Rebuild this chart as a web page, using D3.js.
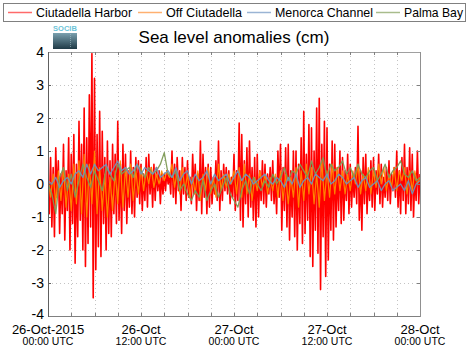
<!DOCTYPE html>
<html><head><meta charset="utf-8">
<script src="https://cdn.jsdelivr.net/npm/d3@7"></script>
<style>body{margin:0;background:#fff}svg{display:block;font-family:"Liberation Sans",Arial,sans-serif}</style>
</head><body><svg id="c" width="468" height="353"></svg>
<script>
const seriesNames = ["Ciutadella Harbor","Off Ciutadella","Menorca Channel","Palma Bay"];
const seriesColors = ["#ff0000","#ff8800","#6f93b8","#7d9a55"];
const legendColors = ["#ff6a6a","#ffb070","#9ab4d4","#a8bc8c"];
const startTime = "2015-10-26T00:00:00Z";
const endTime = "2015-10-28T00:00:00Z";
const yTicks = [-4,-3,-2,-1,0,1,2,3,4];
const xLabelDates = ["26-Oct-2015","26-Oct","27-Oct","27-Oct","28-Oct"];
const xLabelTimes = ["00:00 UTC","12:00 UTC","00:00 UTC","12:00 UTC","00:00 UTC"];

// 10-minute samples (cm)
const harbor = [
 0.1,-0.9,0.8,-1.3,0.5,-1.6,  1.1,-0.4,0.7,-1.5,0.3,-0.9,  1.2,-1.7,0.4,-0.8,1.4,-2.0,
 0.9,-1.2,1.5,-2.4,0.6,-1.6,  1.9,-1.1,1.2,-2.0,2.3,-2.5,  1.4,-1.8,2.7,-1.3,3.95,-3.45,
 3.2,-2.6,1.5,-1.9,2.2,-2.2,  1.6,-1.2,0.8,-2.0,1.3,-1.5,  0.7,-1.6,1.2,-0.9,0.9,-1.2,
 1.9,-1.1,0.6,-1.5,1.2,-0.8,  0.9,-1.2,0.4,-0.7,1.0,-0.9,  0.5,-1.0,0.8,-0.4,0.7,-0.6,
 0.6,-0.8,0.3,-0.5,0.8,-0.7,  0.9,-0.3,0.5,-0.7,0.6,-0.5,  0.5,-0.2,0.4,-0.6,0.3,-0.3,
 0.3,-0.2,0.4,0.0,0.3,-0.3,   1.0,-0.4,0.6,-0.6,0.8,-0.2,  0.4,-0.8,0.8,-0.3,0.5,-0.5,
 0.7,-0.4,0.2,-0.6,0.9,-0.3,  0.6,-0.8,0.3,-0.5,1.3,-0.9,  0.9,-0.4,0.5,-0.9,0.6,-0.7,
 0.5,-0.6,0.2,-0.3,0.7,-0.5,  1.3,-0.8,0.4,-0.5,0.6,-0.2,  0.5,-0.3,0.4,-0.6,0.2,-0.4,
 0.9,-0.8,0.4,-0.5,1.85,-1.1, 1.5,-1.3,0.7,-0.6,1.1,-1.0,  1.3,-0.7,0.5,-1.1,0.8,-1.3,
 0.9,-1.0,0.4,-0.5,0.7,-0.6,  0.6,-0.7,0.3,-0.3,0.5,-0.5,  0.7,-0.6,0.2,-0.9,1.0,-0.4,
 1.2,-1.4,0.5,-0.8,1.1,-1.3,  1.2,-1.7,0.4,-1.0,1.0,-1.6,  1.0,-2.0,0.6,-1.2,1.4,-1.8,
 2.2,-1.5,0.9,-1.1,1.8,-2.2,  1.7,-2.5,1.0,-1.4,2.3,-2.1,  2.6,-3.2,1.2,-1.6,1.9,-2.8,
 1.7,-2.3,0.6,-1.4,1.3,-1.7,  1.2,-1.3,0.5,-0.8,1.0,-1.2,  0.8,-1.1,0.4,-0.5,0.9,-0.9,
 0.6,-0.7,0.3,-0.4,0.5,-0.6,  1.75,-1.1,0.4,-1.4,0.8,-0.6, 0.9,-0.9,0.3,-0.5,0.7,-0.7,
 0.8,-0.8,0.4,-0.3,0.9,-0.6,  0.6,-0.7,0.2,-0.4,0.5,-0.5,  0.7,-0.6,0.3,-0.2,0.5,-0.4,
 1.0,-0.7,0.4,-0.9,0.8,-0.5,  1.2,-0.9,0.5,-0.6,1.1,-0.8,  0.9,-1.0,0.3,-0.5,1.0,-0.6,
 0.3];

// 20-minute samples
const offCiutadella = [
 0.2,-0.4,0.3, -0.6,0.4,-0.5, 0.5,-0.7,0.3, -0.8,0.6,-0.6, 0.7,-0.9,0.9, -1.0,0.6,-0.6,
 1.0,-0.9,0.5, -0.8,0.3,-1.0, 0.2,-0.8,0.4, -0.6,0.7,-0.7, 0.5,-0.4,0.6, -0.5,0.4,-0.3,
 0.5,-0.2,0.4, 0.0,0.5,-0.1, 0.3,0.0,0.4, 0.1,0.4,0.2, 0.6,-0.1,0.4, -0.3,0.5,-0.2,
 0.3,-0.4,0.2, -0.3,0.4,-0.5, 0.3,-0.2,0.5, -0.3,0.2,-0.4, 0.6,-0.2,0.3, -0.1,0.3,0.0,
 0.4,-0.3,0.5, -0.4,0.6,-0.3, 0.3,-0.5,0.2, -0.2,0.4,-0.1, 0.3,-0.3,0.2, -0.2,0.3,-0.4,
 0.4,-0.5,0.3, -0.6,0.2,-0.4, 0.5,-0.7,0.4, -0.5,0.6,-0.3, 0.5,-0.6,0.3, -0.7,0.7,-0.5,
 0.4,-0.4,0.6, -0.3,0.5,-0.2, 0.4,-0.3,0.3, -0.2,0.4,0.0, 0.6,-0.3,0.3, -0.2,0.5,-0.3,
 0.4,-0.1,0.6, 0.0,0.5,-0.2, 0.3,-0.1,0.5, -0.2,0.4,0.1, 0.5,-0.3,0.4, -0.2,0.4,0.0,
 0.2];

// 30-minute samples
const menorcaChannel = [
 0.1,0.0, 0.2,-0.1, 0.1,0.2, 0.0,0.3, 0.4,0.2, 0.6,0.3, 0.6,0.4, 0.5,0.6,
 0.3,0.5, 0.7,0.4, 0.5,0.3, 0.4,0.6, 0.3,0.5, 0.4,0.3, 0.5,0.2, 0.3,0.4,
 0.2,0.5, 0.1,0.3, 0.4,0.0, 0.3,0.1, 0.2,0.4, 0.0,0.3, 0.1,0.2, 0.3,0.0,
 0.2,0.4, 0.1,0.3, 0.2,0.0, 0.1,0.2, 0.3,0.1, 0.0,0.2, 0.1,-0.1, 0.2,0.0,
 0.3,-0.1, 0.1,0.2, 0.0,0.3, 0.2,0.1, 0.3,0.0, 0.1,0.3, 0.2,0.0, 0.1,0.2,
 -0.1,0.1, 0.2,-0.1, 0.0,0.1, -0.2,0.0, 0.1,-0.2, -0.1,0.0, -0.2,0.1, -0.3,0.0,
 0.1];

const palmaBay = [
 0.0,-0.3, -0.9,0.2, 0.5,-0.2, 0.3,-0.4, 0.1,0.6, 0.2,-0.1, 0.4,0.1, -0.2,0.5,
 0.3,0.1, 0.6,0.3, 0.4,0.5, 0.2,0.6, 0.4,0.2, 0.5,0.3, 0.4,0.6, 0.95,0.3,
 0.2,0.4, -0.2,0.0, -0.3,-0.5, -0.2,-0.4, 0.1,-0.5, -0.2,0.0, -0.4,-0.1, 0.2,-0.3,
 -0.5,-0.7, -0.2,0.1, -0.3,0.2, 0.0,-0.2, 0.1,-0.1, 0.3,0.0, 0.2,0.5, 0.1,0.4,
 0.3,0.6, 0.4,0.2, 0.7,0.3, 0.5,0.8, 0.2,0.6, 0.4,0.5, 0.7,0.3, 0.5,0.2,
 0.6,0.3, 0.2,0.4, 0.5,0.1, 0.3,0.6, 0.2,0.4, 0.5,0.7, 0.3,0.2, 0.4,0.1,
 0.2];

const svg = d3.select("#c");
const t0 = new Date(startTime), t1 = new Date(endTime);
const L = 48, R = 420, T = 52, B = 316;
const x = d3.scaleUtc().domain([t0, t1]).range([L, R]);
const y = d3.scaleLinear().domain([-4, 4]).range([B, T]);

function toPoints(arr) {
  const step = (t1 - t0) / (arr.length - 1);
  return arr.map((v, i) => ({t: new Date(+t0 + i * step), v}));
}

// grid
const gridTimes = d3.utcHour.every(3).range(t0, d3.utcHour.offset(t1, 1));
const inner = gridTimes.filter(d => +d > +t0 && +d < +t1);
const innerY = yTicks.filter(d => d > -4 && d < 4);
const g = svg.append("g");
g.selectAll(".vg").data(inner).join("line")
  .attr("x1", d => Math.round(x(d)) + 0.5).attr("x2", d => Math.round(x(d)) + 0.5)
  .attr("y1", T).attr("y2", B)
  .attr("stroke", "#c4c4c4").attr("stroke-width", 1).attr("stroke-dasharray", "1,3");
g.selectAll(".hg").data(innerY).join("line")
  .attr("x1", L).attr("x2", R)
  .attr("y1", d => Math.round(y(d)) + 0.5).attr("y2", d => Math.round(y(d)) + 0.5)
  .attr("stroke", "#c4c4c4").attr("stroke-width", 1).attr("stroke-dasharray", "1,3");

// series
const line = d3.line().x(d => x(d.t)).y(d => y(d.v));
svg.append("clipPath").attr("id", "clip").append("rect").attr("x", L).attr("y", T).attr("width", R - L).attr("height", B - T);
const pg = svg.append("g").attr("clip-path", "url(#clip)");
const order = [[harbor, 0, 1.6, 1], [offCiutadella, 1, 1.2, 0.95], [palmaBay, 3, 1.3, 0.95], [menorcaChannel, 2, 1.3, 0.95]];
order.forEach(([arr, ci, w, op]) => {
  pg.append("path").datum(toPoints(arr)).attr("d", line)
    .attr("fill", "none").attr("stroke", seriesColors[ci]).attr("stroke-width", w)
    .attr("stroke-linejoin", "round").attr("stroke-opacity", op);
});

// frame
const fr = svg.append("g");
fr.append("line").attr("x1", L).attr("x2", R).attr("y1", T + 0.5).attr("y2", T + 0.5).attr("stroke", "#a0a0a0");
fr.append("line").attr("x1", L).attr("x2", R).attr("y1", B + 0.5).attr("y2", B + 0.5).attr("stroke", "#808080");
fr.append("line").attr("x1", L + 0.5).attr("x2", L + 0.5).attr("y1", T).attr("y2", B + 1).attr("stroke", "#606060");
fr.append("line").attr("x1", R + 0.5).attr("x2", R + 0.5).attr("y1", T).attr("y2", B + 1).attr("stroke", "#909090");

fr.selectAll(".bt").data(inner).join("line")
  .attr("x1", d => Math.round(x(d)) + 0.5).attr("x2", d => Math.round(x(d)) + 0.5)
  .attr("y1", B).attr("y2", B - 3).attr("stroke", "#808080");
fr.selectAll(".tt").data(inner).join("line")
  .attr("x1", d => Math.round(x(d)) + 0.5).attr("x2", d => Math.round(x(d)) + 0.5)
  .attr("y1", T).attr("y2", T + 3).attr("stroke", "#808080");
fr.selectAll(".lt").data(innerY).join("line")
  .attr("x1", L).attr("x2", L + 3)
  .attr("y1", d => Math.round(y(d)) + 0.5).attr("y2", d => Math.round(y(d)) + 0.5).attr("stroke", "#606060");
fr.selectAll(".rt").data(innerY).join("line")
  .attr("x1", R).attr("x2", R - 3)
  .attr("y1", d => Math.round(y(d)) + 0.5).attr("y2", d => Math.round(y(d)) + 0.5).attr("stroke", "#808080");

// y labels
svg.append("g").selectAll("text").data(yTicks).join("text")
  .attr("x", 44).attr("y", d => d === -4 ? y(d) + 2.5 : y(d) + 5).attr("text-anchor", "end")
  .attr("font-size", 14).attr("fill", "#000").text(d => d < 0 ? "-" + Math.abs(d) : d);

// x labels
const labelTimes = d3.utcHour.every(12).range(t0, d3.utcHour.offset(t1, 1));
const xl = svg.append("g").selectAll("g").data(labelTimes).join("g")
  .attr("transform", d => `translate(${x(d)},0)`);
xl.append("text").attr("y", 333.5).attr("text-anchor", "middle").attr("font-size", 13)
  .text((d, i) => xLabelDates[i]);
xl.append("text").attr("y", 345).attr("text-anchor", "middle").attr("font-size", 10.5)
  .text((d, i) => xLabelTimes[i]);

// title
svg.append("text").attr("x", 234).attr("y", 43).attr("text-anchor", "middle")
  .attr("font-size", 17).text("Sea level anomalies (cm)");

// logo
const defs = svg.append("defs");
const grad = defs.append("linearGradient").attr("id", "lg").attr("x1", 0).attr("y1", 0).attr("x2", 0).attr("y2", 1);
grad.append("stop").attr("offset", "0%").attr("stop-color", "#7aa0ae");
grad.append("stop").attr("offset", "100%").attr("stop-color", "#1f3a46");
svg.append("text").attr("x", 65).attr("y", 31).attr("text-anchor", "middle")
  .attr("font-size", 7.5).attr("fill", "#6cc4d8").attr("font-weight", "bold").text("SOCIB");
svg.append("rect").attr("x", 53).attr("y", 33).attr("width", 24).attr("height", 16).attr("fill", "url(#lg)");
svg.append("line").attr("x1", 70.5).attr("x2", 70.5).attr("y1", 34).attr("y2", 48).attr("stroke", "#a8c4cc").attr("stroke-width", 0.6).attr("stroke-dasharray", "1,1");

// legend
const lg = svg.append("g");
lg.append("rect").attr("x", 3.5).attr("y", 3.5).attr("width", 462).attr("height", 18)
  .attr("fill", "#fff").attr("stroke", "#808080");
const legX = [8, 138, 247, 376];
const legW = [96, 76, 98, 59];
seriesNames.forEach((n, i) => {
  lg.append("line").attr("x1", legX[i]).attr("x2", legX[i] + 24).attr("y1", 12.5).attr("y2", 12.5)
    .attr("stroke", legendColors[i]).attr("stroke-width", 1.5);
  lg.append("text").attr("x", legX[i] + 28).attr("y", 17).attr("font-size", 13.5)
    .attr("textLength", legW[i]).attr("lengthAdjust", "spacingAndGlyphs").text(n);
});
</script></body></html>
